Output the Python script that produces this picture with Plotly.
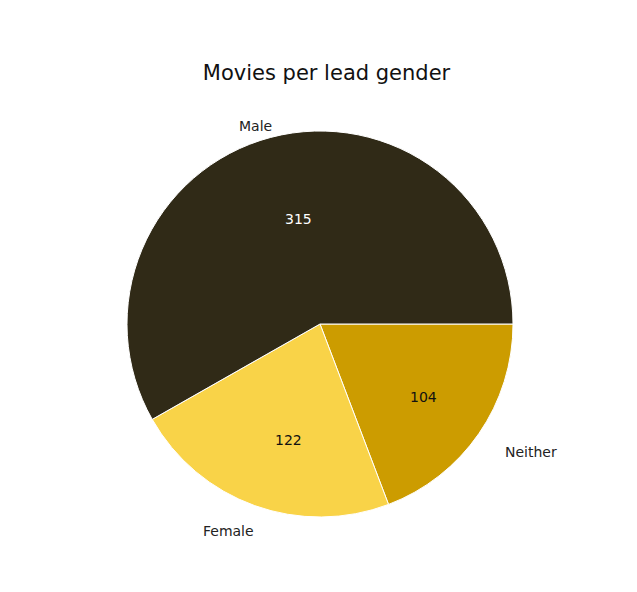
import math
import plotly.graph_objects as go

labels = ["Male", "Female", "Neither"]
values = [315, 122, 104]
colors = ["#302a17", "#f9d348", "#cc9c00"]
value_colors = ["#ffffff", "#111111", "#111111"]

W, H = 637, 592
cx, cy, R = 320, 323, 193
dx, dy = -8, -7  # compensate plotly domain rounding

fig = go.Figure(go.Pie(
    labels=labels[::-1], values=values[::-1], sort=False, direction="clockwise",
    rotation=90, marker=dict(colors=colors[::-1], line=dict(color="white", width=1)),
    textinfo="none", hoverinfo="label+value", showlegend=False,
    domain=dict(x=[(cx + dx - R) / W, (cx + dx + R) / W],
                y=[1 - (cy + dy + R) / H, 1 - (cy + dy - R) / H]),
))

total = sum(values)
start = 0.0
for lab, v, tc in zip(labels, values, value_colors):
    span = v / total * 360
    mid = math.radians(start + span / 2)
    start += span
    c, s = math.cos(mid), math.sin(mid)
    lx, ly = cx + 1.1 * R * c, cy - 1.1 * R * s
    fig.add_annotation(x=lx / W, y=1 - ly / H, xref="paper", yref="paper", text=lab,
                       showarrow=False, xanchor="left" if c > 0 else "right", yanchor="middle",
                       font=dict(size=14, color="#222"))
    vx, vy = cx + 0.6 * R * c, cy - 0.6 * R * s
    fig.add_annotation(x=vx / W, y=1 - vy / H, xref="paper", yref="paper", text=str(v),
                       showarrow=False, xanchor="center", yanchor="middle",
                       font=dict(size=14, color=tc))

fig.update_layout(
    width=W, height=H, margin=dict(l=0, r=0, t=0, b=0),
    paper_bgcolor="white", plot_bgcolor="white",
    font=dict(family="DejaVu Sans"),
    title=dict(text="Movies per lead gender", x=0.5, xanchor="center",
               y=1 - 65 / H, yanchor="middle", font=dict(size=21, color="#111")),
)
fig.write_html("out.html")
